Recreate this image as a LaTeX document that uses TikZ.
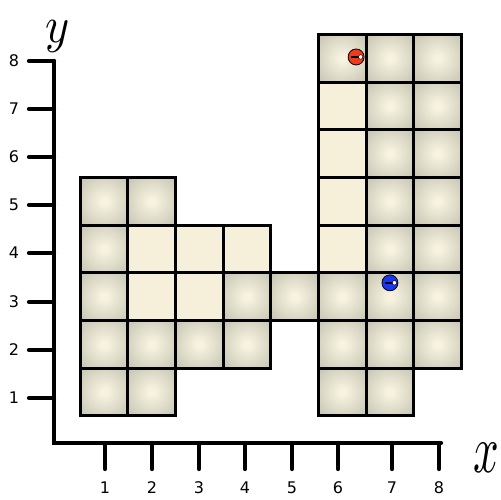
\documentclass[tikz,border=0pt]{standalone}
\usepackage{fontspec}
\usepackage{graphicx}
\newfontfamily\ticksfont{DejaVu Sans}
\definecolor{cin}{HTML}{F7F3E0}
\definecolor{cout}{HTML}{A3A292}
\definecolor{cream}{HTML}{F6F0DA}
\definecolor{dotred}{HTML}{F03A1C}
\definecolor{dotblue}{HTML}{1A36F2}
\pgfdeclareradialshading{cellshade}{\pgfpoint{0bp}{0bp}}{color(0bp)=(cin); color(3bp)=(cin); color(58bp)=(cout); color(100bp)=(cout)}
\tikzset{
  axisline/.style={line width=4.3pt, line cap=round, line join=miter},
  ticklabel/.style={font=\ticksfont\fontsize{16}{16}\selectfont, inner sep=0pt},
  graycell/.style={draw=black, line width=3.2pt, shading=cellshade},
  creamcell/.style={draw=black, line width=3.2pt, fill=cream},
  marker/.style={circle, draw=black, line width=0.8pt, minimum size=16pt, inner sep=0pt},
  markerbar/.style={line width=2.2pt, black},
  markerhole/.style={circle, fill=white, draw=black, line width=0.5pt, minimum size=4.5pt, inner sep=0pt}
}
\begin{document}
\begin{tikzpicture}[x=1pt,y=1pt]
\useasboundingbox (0,0) rectangle (501,499);
% cells
\begin{scope}[shift={(56.4pt,59.4pt)}, x=47.65pt, y=47.65pt]
  \foreach \i/\j in {1/1,1/2,1/3,1/4,1/5,2/1,2/2,2/5,3/2,4/2,4/3,5/3,6/1,6/2,6/3,6/8,
                     7/1,7/2,7/3,7/4,7/5,7/6,7/7,7/8,8/2,8/3,8/4,8/5,8/6,8/7,8/8}
    \path[graycell] (\i-0.5,\j-0.5) rectangle (\i+0.5,\j+0.5);
  \foreach \i/\j in {2/3,2/4,3/3,3/4,4/4,6/4,6/5,6/6,6/7}
    \path[creamcell] (\i-0.5,\j-0.5) rectangle (\i+0.5,\j+0.5);
  % markers
  \node[marker, fill=dotred] (red) at (6.29,8.03) {};
  \draw[markerbar] ([xshift=-5pt]red.center) -- ([xshift=4pt]red.center);
  \node[markerhole] (redhole) at ([xshift=4.5pt]red.center) {};
  \node[marker, fill=dotblue] (blue) at (7.0,3.29) {};
  \draw[markerbar] ([xshift=-5pt]blue.center) -- ([xshift=4pt]blue.center);
  \node[markerhole] (bluehole) at ([xshift=4.5pt]blue.center) {};
\end{scope}
% axes
\coordinate (origin) at (54,56);
\coordinate (ytop) at (54,438);
\coordinate (xend) at (441,56);
\draw[axisline] (ytop) -- (origin) -- (xend);
\foreach \n/\py in {1/101,2/149,3/197,4/246,5/294,6/342,7/390,8/438}{
  \coordinate (yt\n) at (54,\py);
  \coordinate (yte\n) at (29,\py);
  \draw[axisline] (yt\n) -- (yte\n);
  \node[ticklabel] (yl\n) at (14,\py) {\n};
}
\foreach \n/\px in {1/105,2/152,3/199,4/245,5/292,6/338,7/392,8/439}{
  \coordinate (xt\n) at (\px,56);
  \coordinate (xte\n) at (\px,30);
  \draw[axisline] (xt\n) -- (xte\n);
  \node[ticklabel] (xl\n) at (\px,11) {\n};
}
\node[inner sep=0pt] (ylabel) at (58,463) {\scalebox{4.6}[5.1]{$y$}};
\node[inner sep=0pt] (xlabel) at (486,41.5) {\scalebox{4.5}[6.8]{$x$}};
\end{tikzpicture}
\end{document}
